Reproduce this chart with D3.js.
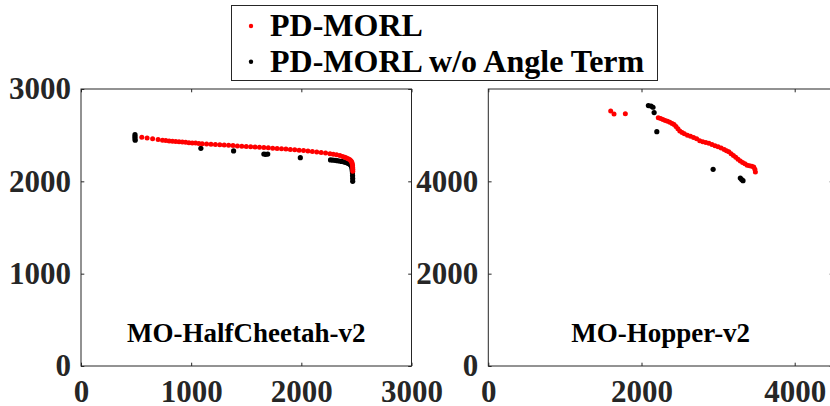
<!DOCTYPE html>
<html>
<head>
<meta charset="utf-8">
<script src="https://cdn.jsdelivr.net/npm/d3@7"></script>
<style>
html,body{margin:0;padding:0;background:#fff;overflow:hidden;}
svg{display:block;}
text{font-family:"Liberation Serif","Times New Roman",serif;font-weight:bold;}
</style>
</head>
<body>
<svg id="chart" width="830" height="406"></svg>
<script>
// ---- Data ----
const seriesNames = ["PD-MORL", "PD-MORL w/o Angle Term"];
const seriesColors = ["#ff0000", "#000000"];

// MO-HalfCheetah-v2
const hcTitle = "MO-HalfCheetah-v2";
const hcXTicks = [0, 1000, 2000, 3000];
const hcYTicks = [0, 1000, 2000, 3000];
const hcRedX = [552, 600, 650, 700, 740, 770, 800, 830, 860, 890, 920, 950, 980, 1010, 1040, 1070, 1100, 1140, 1180, 1220, 1260, 1300, 1340, 1380, 1420, 1460, 1500, 1540, 1580, 1620, 1660, 1700, 1740, 1780, 1820, 1860, 1900, 1940, 1980, 2020, 2060, 2100, 2140, 2180, 2220, 2260, 2290, 2320, 2350, 2375, 2395, 2410, 2425, 2438, 2448, 2455, 2460, 2463, 2465, 2466, 2467, 2467];
const hcRedY = [2478, 2470, 2462, 2452, 2446, 2442, 2438, 2434, 2431, 2428, 2425, 2422, 2419, 2416, 2414, 2411, 2408, 2405, 2402, 2399, 2396, 2393, 2390, 2387, 2384, 2381, 2378, 2375, 2372, 2369, 2366, 2363, 2359, 2356, 2352, 2349, 2345, 2341, 2337, 2333, 2328, 2323, 2318, 2313, 2307, 2300, 2294, 2287, 2279, 2270, 2262, 2254, 2245, 2236, 2226, 2214, 2200, 2185, 2168, 2150, 2130, 2110];
const hcBlackX = [490, 490, 490, 492, 1088, 1385, 1660, 1675, 1695, 1991, 2265, 2285, 2305, 2325, 2345, 2365, 2385, 2400, 2415, 2428, 2440, 2450, 2456, 2460, 2462, 2464, 2465, 2466, 2466];
const hcBlackY = [2505, 2485, 2465, 2445, 2358, 2329, 2296, 2292, 2295, 2256, 2232, 2230, 2227, 2224, 2220, 2216, 2211, 2206, 2200, 2193, 2185, 2175, 2160, 2140, 2115, 2090, 2060, 2030, 2000];

// MO-Hopper-v2
const hopTitle = "MO-Hopper-v2";
const hopXTicks = [0, 2000, 4000];
const hopYTicks = [0, 2000, 4000];
const hopRedX = [1598, 1641, 1789, 2219, 2250, 2280, 2310, 2340, 2370, 2400, 2425, 2450, 2475, 2500, 2530, 2560, 2600, 2640, 2680, 2720, 2760, 2800, 2840, 2880, 2920, 2960, 3000, 3040, 3080, 3110, 3140, 3170, 3200, 3230, 3260, 3290, 3320, 3350, 3380, 3410, 3440, 3465, 3480, 3487];
const hopRedY = [5523, 5458, 5465, 5378, 5360, 5340, 5318, 5300, 5280, 5255, 5230, 5190, 5140, 5090, 5060, 5030, 5000, 4975, 4950, 4920, 4880, 4860, 4840, 4825, 4800, 4770, 4750, 4720, 4690, 4660, 4640, 4600, 4560, 4520, 4480, 4440, 4410, 4380, 4350, 4335, 4325, 4310, 4260, 4200];
const hopBlackX = [2090, 2125, 2150, 2165, 2200, 2935, 3290, 3308, 3325];
const hopBlackY = [5640, 5630, 5605, 5490, 5075, 4260, 4070, 4040, 4015];

// ---- Drawing ----
const svg = d3.select("#chart");
const axisColor = "#262626";
const tickFont = 31;

function panel(cfg) {
  const x = d3.scaleLinear().domain(cfg.xDomain).range([cfg.left, cfg.right]);
  const y = d3.scaleLinear().domain(cfg.yDomain).range([cfg.bottom, cfg.top]);
  const g = svg.append("g");
  const tl = 3.3;

  g.append("rect")
    .attr("x", cfg.left).attr("y", cfg.top)
    .attr("width", cfg.right - cfg.left).attr("height", cfg.bottom - cfg.top)
    .attr("fill", "#fff").attr("stroke", axisColor).attr("stroke-width", 1);

  const xb = g.append("g").attr("transform", `translate(0,${cfg.bottom})`)
    .call(d3.axisBottom(x).tickValues(cfg.xTicks).tickSize(-tl).tickFormat(d3.format("d")));
  xb.select(".domain").remove();
  xb.selectAll("line").attr("stroke", axisColor);
  xb.selectAll("text").attr("font-size", tickFont).attr("fill", axisColor)
    .attr("dy", null).attr("y", 36);

  const xt = g.append("g").attr("transform", `translate(0,${cfg.top})`)
    .call(d3.axisTop(x).tickValues(cfg.xTicks).tickSize(-tl).tickFormat(""));
  xt.select(".domain").remove();
  xt.selectAll("line").attr("stroke", axisColor);

  const yl = g.append("g").attr("transform", `translate(${cfg.left},0)`)
    .call(d3.axisLeft(y).tickValues(cfg.yTicks).tickSize(-tl).tickFormat(d3.format("d")));
  yl.select(".domain").remove();
  yl.selectAll("line").attr("stroke", axisColor);
  yl.selectAll("text").attr("font-size", tickFont).attr("fill", axisColor)
    .attr("x", -10);

  const yr = g.append("g").attr("transform", `translate(${cfg.right},0)`)
    .call(d3.axisRight(y).tickValues(cfg.yTicks).tickSize(-tl).tickFormat(""));
  yr.select(".domain").remove();
  yr.selectAll("line").attr("stroke", axisColor);

  const red = cfg.redX.map((v, i) => [v, cfg.redY[i]]);
  const black = cfg.blackX.map((v, i) => [v, cfg.blackY[i]]);
  g.append("g").selectAll("circle").data(black).join("circle")
    .attr("cx", d => x(d[0])).attr("cy", d => y(d[1])).attr("r", 2.6)
    .attr("fill", seriesColors[1]);
  g.append("g").selectAll("circle").data(red).join("circle")
    .attr("cx", d => x(d[0])).attr("cy", d => y(d[1])).attr("r", 2.5)
    .attr("fill", seriesColors[0]);

  g.append("text")
    .attr("x", (cfg.left + cfg.right) / 2).attr("y", cfg.titleY)
    .attr("text-anchor", "middle").attr("font-size", 27).attr("fill", "#000")
    .text(cfg.title);
}

panel({
  left: 81, right: 411.5, top: 89, bottom: 366,
  xDomain: [0, 3000], yDomain: [0, 3000],
  xTicks: hcXTicks, yTicks: hcYTicks,
  redX: hcRedX, redY: hcRedY, blackX: hcBlackX, blackY: hcBlackY,
  title: hcTitle, titleY: 342
});

panel({
  left: 488.3, right: 833, top: 89, bottom: 366,
  xDomain: [0, 4500], yDomain: [0, 6000],
  xTicks: hopXTicks, yTicks: hopYTicks,
  redX: hopRedX, redY: hopRedY, blackX: hopBlackX, blackY: hopBlackY,
  title: hopTitle, titleY: 342
});

const lg = svg.append("g");
lg.append("rect").attr("x", 231.5).attr("y", 5.5).attr("width", 426).attr("height", 75)
  .attr("fill", "#fff").attr("stroke", axisColor).attr("stroke-width", 1);
const legendY = [26, 61.7];
seriesNames.forEach((name, i) => {
  lg.append("circle").attr("cx", 251).attr("cy", legendY[i]).attr("r", 2.2).attr("fill", seriesColors[i]);
  lg.append("text").attr("x", 270).attr("y", legendY[i] + 10).attr("font-size", 32)
    .attr("fill", "#000").text(name);
});
</script>
</body>
</html>
